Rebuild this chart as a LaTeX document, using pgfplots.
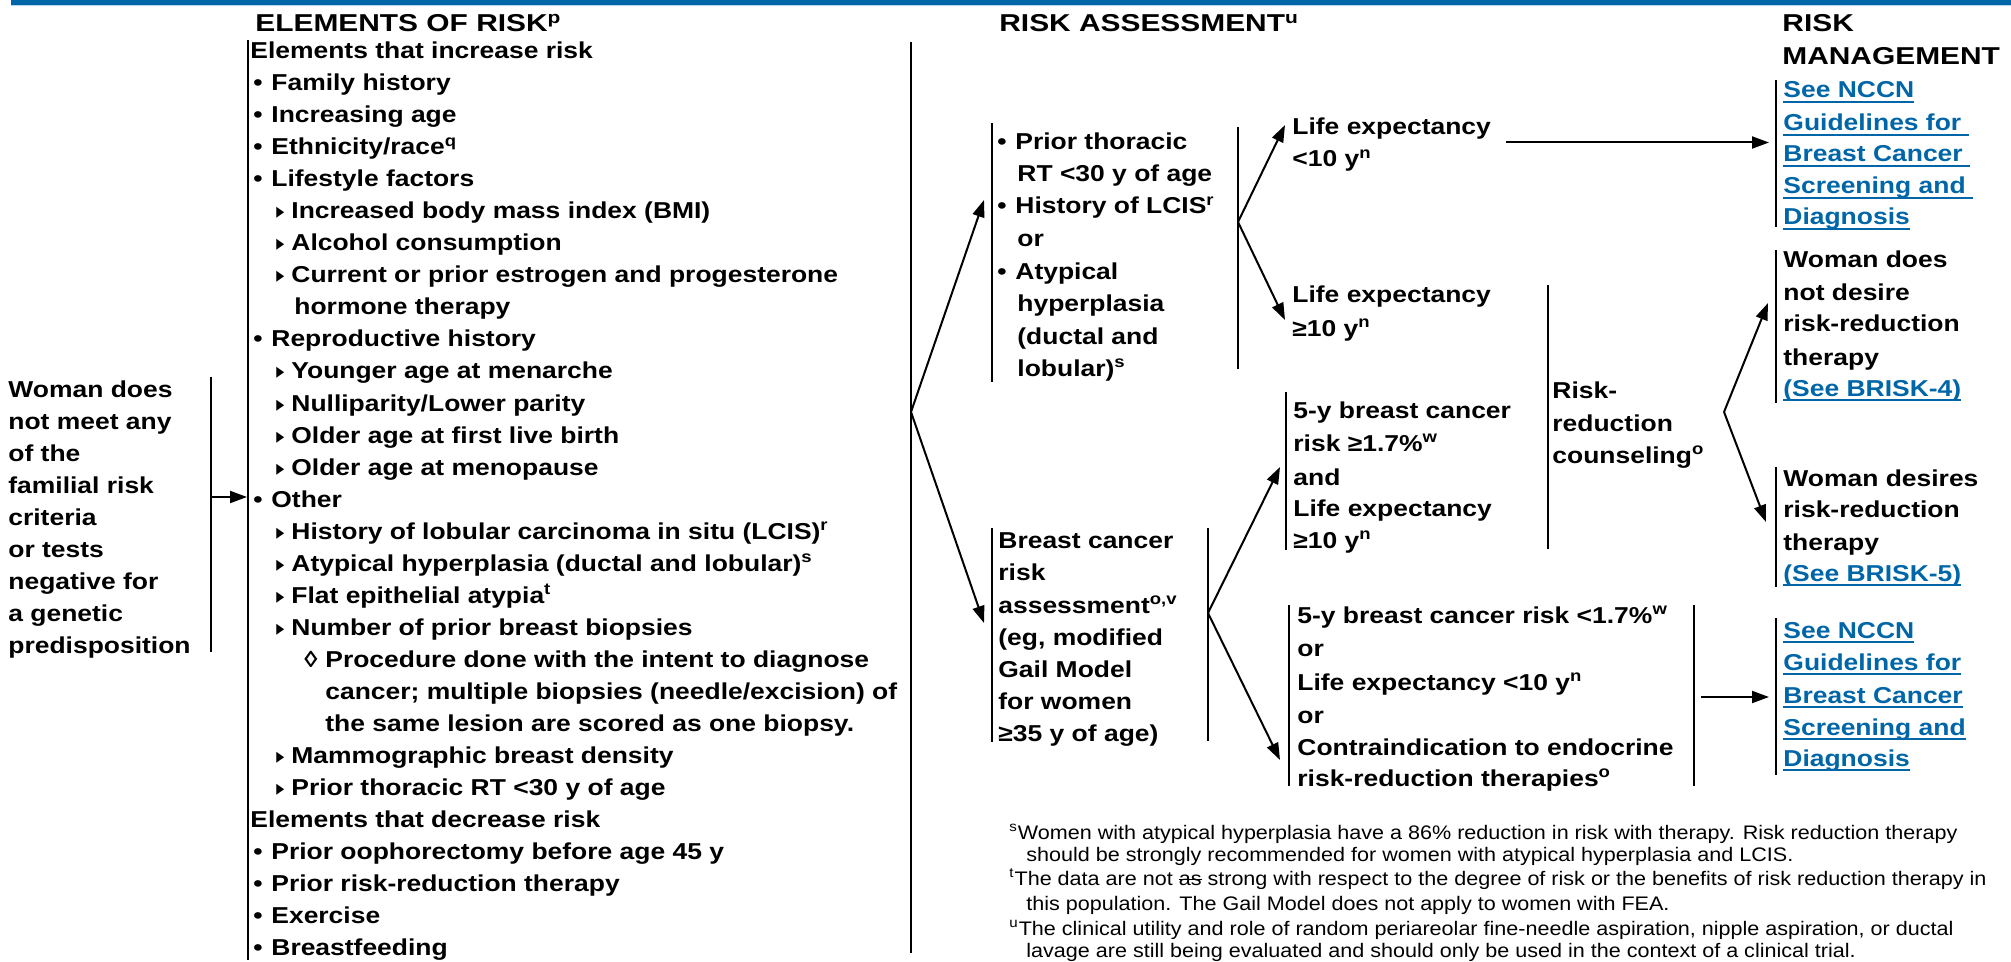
\documentclass[border=0pt]{standalone}
\usepackage{pgfplots}
\pgfplotsset{compat=1.18}
\usetikzlibrary{arrows.meta}
\usepackage{graphicx}
\usepackage{fontspec}
\setmainfont{Liberation Sans}[FakeStretch=1.15]
\newfontfamily\hdfam{Liberation Sans}[FakeStretch=1.225]
\newfontfamily\dv{DejaVu Sans}
\newfontfamily\fnfont{Liberation Sans}[FakeStretch=1.1]
\definecolor{nccn}{HTML}{0066A8}
\definecolor{nccnlight}{HTML}{BBD5EC}
\newcommand\bodyfont{\fontsize{11.5}{16}\selectfont\bfseries}
\newcommand\headfont{\hdfam\fontsize{12.2}{16}\selectfont\bfseries}
\newcommand\footfont{\fnfont\fontsize{9.8}{12}\selectfont}
\newcommand\myul[1]{\setbox0\hbox{#1}\rlap{\rule[-2.4pt]{\wd0}{0.9pt}}\box0{}}
\newcommand\mysout[1]{\setbox0\hbox{#1}\rlap{\rule[0.28em]{\wd0}{0.5pt}}\box0{}}
% text line: x, baseline y, text
\newcommand\Tx[3]{\node[anchor=base west,inner sep=0pt,font=\bodyfont] at (axis cs:#1,#2) {#3};}
\newcommand\Hd[3]{\node[anchor=base west,inner sep=0pt,font=\headfont] at (axis cs:#1,#2) {#3};}
\newcommand\Fn[3]{\node[anchor=base west,inner sep=0pt,font=\footfont] at (axis cs:#1,#2) {#3};}
\newcommand\Lk[3]{\node[anchor=base west,inner sep=0pt,font=\bodyfont,text=nccn] at (axis cs:#1,#2) {\myul{#3}};}
% bullet items in elements list
\newcommand\Bu[2]{\Tx{253}{#1}{•}\Tx{271}{#1}{#2}}
\newcommand\Tr[2]{\node[anchor=base west,inner sep=0pt,font=\dv\fontsize{7.2}{16}\selectfont] at (axis cs:276,#1-2) {\scalebox{0.72}[1]{▶}};\Tx{291}{#1}{#2}}
\tikzset{arw/.style={line width=1pt,-{Triangle[length=8.5pt,width=6pt]}}, brk/.style={line width=0.9pt}}
\begin{document}
\begin{tikzpicture}
\begin{axis}[hide axis, scale only axis, width=1005.5pt, height=481pt,
  xmin=0, xmax=2011, ymin=0, ymax=962, y dir=reverse, clip=false]
\addplot[draw=none] coordinates {(0,0) (2011,962)};
% header bar
\fill[nccn] (axis cs:11,0) rectangle (axis cs:2011,4.6);
\fill[nccnlight] (axis cs:11,4.6) rectangle (axis cs:2011,6.2);
% titles
\Hd{255}{32}{ELEMENTS OF RISK\textsuperscript{p}}
\Hd{999}{32}{RISK ASSESSMENT\textsuperscript{u}}
\Hd{1782}{32}{RISK}
\Hd{1782}{65}{MANAGEMENT}
% left box
\Tx{8}{397}{Woman does}
\Tx{8}{429}{not meet any}
\Tx{8}{461}{of the}
\Tx{8}{493}{familial risk}
\Tx{8}{525}{criteria}
\Tx{8}{557}{or tests}
\Tx{8}{589}{negative for}
\Tx{8}{621}{a genetic}
\Tx{8}{653}{predisposition}
\draw[brk] (axis cs:211,377) -- (axis cs:211,652);
\draw[arw] (axis cs:211,497) -- (axis cs:247,497);
% elements list
\draw[brk] (axis cs:248,40) -- (axis cs:248,960);
\draw[brk] (axis cs:911,42) -- (axis cs:911,953);
\Tx{250}{59}{Elements that increase risk}
\Bu{91}{Family history}
\Bu{123}{Increasing age}
\Bu{155}{Ethnicity/race\textsuperscript{q}}
\Bu{187}{Lifestyle factors}
\Tr{219}{Increased body mass index (BMI)}
\Tr{251}{Alcohol consumption}
\Tr{283}{Current or prior estrogen and progesterone}
\Tx{294}{315}{hormone therapy}
\Bu{347}{Reproductive history}
\Tr{379}{Younger age at menarche}
\Tr{411}{Nulliparity/Lower parity}
\Tr{443}{Older age at first live birth}
\Tr{475}{Older age at menopause}
\Bu{507}{Other}
\Tr{539}{History of lobular carcinoma in situ (LCIS)\textsuperscript{r}}
\Tr{571}{Atypical hyperplasia (ductal and lobular)\textsuperscript{s}}
\Tr{603}{Flat epithelial atypia\textsuperscript{t}}
\Tr{635}{Number of prior breast biopsies}
\Tx{304}{667}{◊}
\Tx{325}{667}{Procedure done with the intent to diagnose}
\Tx{325}{699}{cancer; multiple biopsies (needle/excision) of}
\Tx{325}{731}{the same lesion are scored as one biopsy.}
\Tr{763}{Mammographic breast density}
\Tr{795}{Prior thoracic RT <30 y of age}
\Tx{250}{827}{Elements that decrease risk}
\Bu{859}{Prior oophorectomy before age 45 y}
\Bu{891}{Prior risk-reduction therapy}
\Bu{923}{Exercise}
\Bu{955}{Breastfeeding}
% arrows from elements list
\draw[arw] (axis cs:911,412) -- (axis cs:984,200);
\draw[arw] (axis cs:911,412) -- (axis cs:984,623);
% upper RA box
\draw[brk] (axis cs:992,123) -- (axis cs:992,382);
\draw[brk] (axis cs:1238,127) -- (axis cs:1238,369);
\Tx{997}{150}{•}\Tx{1015}{150}{Prior thoracic}
\Tx{1017}{182}{RT <30 y of age}
\Tx{997}{214}{•}\Tx{1015}{214}{History of LCIS\textsuperscript{r}}
\Tx{1017}{247}{or}
\Tx{997}{280}{•}\Tx{1015}{280}{Atypical}
\Tx{1017}{312}{hyperplasia}
\Tx{1017}{344}{(ductal and}
\Tx{1017}{376}{lobular)\textsuperscript{s}}
\draw[arw] (axis cs:1238,222) -- (axis cs:1285,125);
\draw[arw] (axis cs:1238,222) -- (axis cs:1285,320);
\Tx{1292}{135}{Life expectancy}
\Tx{1292}{167}{<10 y\textsuperscript{n}}
\Tx{1292}{303}{Life expectancy}
\Tx{1292}{336}{≥10 y\textsuperscript{n}}
\draw[arw] (axis cs:1506,142.5) -- (axis cs:1769,142.5);
% see NCCN box 1
\draw[brk] (axis cs:1776,80) -- (axis cs:1776,227);
\Lk{1783}{98}{See NCCN}
\Lk{1783}{131}{Guidelines for\phantom{i}}
\Lk{1783}{162}{Breast Cancer\phantom{i}}
\Lk{1783}{194}{Screening and\phantom{i}}
\Lk{1783}{225}{Diagnosis}
% woman does not desire
\draw[brk] (axis cs:1776,250) -- (axis cs:1776,403);
\Tx{1783}{268}{Woman does}
\Tx{1783}{301}{not desire}
\Tx{1783}{332}{risk-reduction}
\Tx{1783}{365}{therapy}
\Lk{1783}{396}{(See BRISK-4)}
% woman desires
\draw[brk] (axis cs:1776,467) -- (axis cs:1776,587);
\Tx{1783}{486}{Woman desires}
\Tx{1783}{517}{risk-reduction}
\Tx{1783}{550}{therapy}
\Lk{1783}{581}{(See BRISK-5)}
% risk-reduction counseling
\draw[brk] (axis cs:1548,285) -- (axis cs:1548,549);
\Tx{1552}{398}{Risk-}
\Tx{1552}{431}{reduction}
\Tx{1552}{463}{counseling\textsuperscript{o}}
\draw[arw] (axis cs:1724,412) -- (axis cs:1768,303);
\draw[arw] (axis cs:1724,412) -- (axis cs:1766,522);
% 5-y >= 1.7
\draw[brk] (axis cs:1286,392) -- (axis cs:1286,550);
\Tx{1293}{418}{5-y breast cancer}
\Tx{1293}{451}{risk ≥1.7\%\textsuperscript{w}}
\Tx{1293}{485}{and}
\Tx{1293}{516}{Life expectancy}
\Tx{1293}{548}{≥10 y\textsuperscript{n}}
% breast cancer risk assessment
\draw[brk] (axis cs:992,528) -- (axis cs:992,742);
\draw[brk] (axis cs:1208,528) -- (axis cs:1208,741);
\Tx{998}{548}{Breast cancer}
\Tx{998}{580}{risk}
\Tx{998}{613}{assessment\textsuperscript{o,v}}
\Tx{998}{645}{(eg, modified}
\Tx{998}{677}{Gail Model}
\Tx{998}{709}{for women}
\Tx{998}{741}{≥35 y of age)}
\draw[arw] (axis cs:1208,613) -- (axis cs:1280,467);
\draw[arw] (axis cs:1208,613) -- (axis cs:1280,760);
% 5-y < 1.7
\draw[brk] (axis cs:1289,605) -- (axis cs:1289,786);
\draw[brk] (axis cs:1694,605) -- (axis cs:1694,786);
\Tx{1297}{623}{5-y breast cancer risk <1.7\%\textsuperscript{w}}
\Tx{1297}{656}{or}
\Tx{1297}{690}{Life expectancy <10 y\textsuperscript{n}}
\Tx{1297}{723}{or}
\Tx{1297}{755}{Contraindication to endocrine}
\Tx{1297}{786}{risk-reduction therapies\textsuperscript{o}}
\draw[arw] (axis cs:1701,697) -- (axis cs:1769,697);
% see NCCN box 2
\draw[brk] (axis cs:1776,618) -- (axis cs:1776,775);
\Lk{1783}{638}{See NCCN}
\Lk{1783}{670}{Guidelines for}
\Lk{1783}{703}{Breast Cancer}
\Lk{1783}{735}{Screening and}
\Lk{1783}{766}{Diagnosis}
% footnotes
\Fn{1009}{839}{\textsuperscript{s}Women with atypical hyperplasia have a 86\% reduction in risk with therapy. Risk reduction therapy}
\Fn{1026}{861}{should be strongly recommended for women with atypical hyperplasia and LCIS.}
\Fn{1009}{885}{\textsuperscript{t}The data are not \mysout{as} strong with respect to the degree of risk or the benefits of risk reduction therapy in}
\Fn{1026}{910}{this population. The Gail Model does not apply to women with FEA.}
\Fn{1009}{935}{\textsuperscript{u}The clinical utility and role of random periareolar fine-needle aspiration, nipple aspiration, or ductal}
\Fn{1026}{957}{lavage are still being evaluated and should only be used in the context of a clinical trial.}
\end{axis}
\pgfresetboundingbox
\path[use as bounding box] (0,0) rectangle (1005.5pt,481pt);
\end{tikzpicture}
\end{document}
